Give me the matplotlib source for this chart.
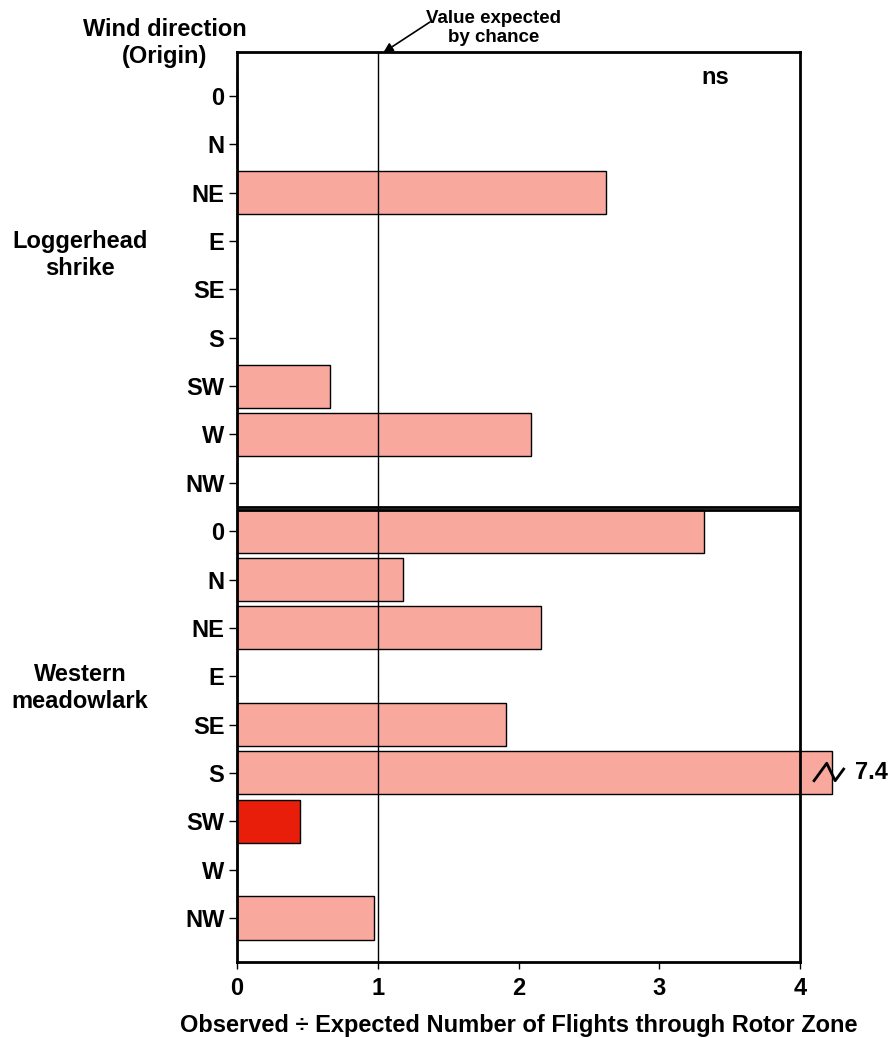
import numpy as np
import matplotlib.pyplot as plt

plt.rcParams['font.family'] = ['Liberation Sans', 'DejaVu Sans']
plt.rcParams['font.weight'] = 'bold'

# data
directions = ['0', 'N', 'NE', 'E', 'SE', 'S', 'SW', 'W', 'NW']
shrike = [0, 0, 2.62, 0, 0, 0, 0.66, 2.09, 0]
meadowlark = [3.32, 1.18, 2.16, 0, 1.91, 7.4, 0.45, 0, 0.97]
meadowlark_sig = [False, False, False, False, False, False, True, False, False]
species = ['Loggerhead\nshrike', 'Western\nmeadowlark']
xticks = [0, 1, 2, 3, 4]
x_cap = 4.23  # bars beyond the axis are drawn broken at this point

pink = '#F9A89E'
red = '#E81E0A'
fs = 17

W, H = 891, 1038
fig = plt.figure(figsize=(W / 100, H / 100), dpi=100)
ax = fig.add_axes([237 / W, 1 - 962 / H, (800 - 237) / W, (962 - 52) / H])

ypos = np.arange(18)
values = shrike + meadowlark
colors = [pink] * 9 + [red if s else pink for s in meadowlark_sig]
shown = [min(v, x_cap) for v in values]
bars = ax.barh(ypos, shown, height=0.89, color=colors, edgecolor='black',
               linewidth=1, zorder=2)
for b in bars:
    b.set_clip_on(False)

# value expected by chance
ax.axvline(1, color='black', lw=1, zorder=3)

# panel divider
for yy in (8.49, 8.57):
    ax.axhline(yy, color='black', lw=2, zorder=4)

# break mark on the long bar
for i, v in enumerate(values):
    if v > x_cap:
        y0 = ypos[i]
        ax.plot([4.10, 4.19, 4.25, 4.31], [y0 + 0.16, y0 - 0.2, y0 + 0.16, y0 - 0.08],
                color='black', lw=2, clip_on=False, zorder=5)
        ax.text(4.39, y0, f'{v:.1f}', va='center', ha='left', fontsize=fs,
                fontweight='bold')

ax.set_xlim(0, 4)
ax.set_ylim(17.91, -0.91)
ax.set_yticks(ypos)
ax.set_yticklabels(directions * 2, fontsize=fs, fontweight='bold')
ax.set_xticks(xticks)
ax.set_xticklabels([str(t) for t in xticks], fontsize=fs, fontweight='bold')
ax.tick_params(axis='y', length=6, width=1, pad=3)
ax.tick_params(axis='x', length=5, width=1, pad=6)
for s in ax.spines.values():
    s.set_linewidth(2)
ax.set_xlabel('Observed \u00f7 Expected Number of Flights through Rotor Zone',
              fontsize=fs, fontweight='bold', labelpad=10)

fig.text(165 / W, 1 - 43 / H, 'Wind direction\n(Origin)', ha='center', va='center',
         fontsize=fs, fontweight='bold', linespacing=1.2)
fig.text(80 / W, 1 - 255 / H, species[0], ha='center', va='center',
         fontsize=fs, fontweight='bold', linespacing=1.2)
fig.text(80 / W, 1 - 688 / H, species[1], ha='center', va='center',
         fontsize=fs, fontweight='bold', linespacing=1.2)
fig.text(715 / W, 1 - 78 / H, 'ns', ha='center', va='center',
         fontsize=fs, fontweight='bold')

ax.text(494 / W, 1 - 28 / H, 'Value expected\nby chance', transform=fig.transFigure,
        ha='center', va='center', fontsize=13.5, fontweight='bold',
        linespacing=1.1)
ax.annotate('', xy=(1.04, -0.9), xycoords='data',
            xytext=(430 / W, 1 - 22 / H), textcoords='figure fraction',
            annotation_clip=False,
            arrowprops=dict(arrowstyle='-|>', color='black', lw=1.2,
                            shrinkA=0, shrinkB=0, mutation_scale=14))

fig.savefig('out.png', dpi=100)
